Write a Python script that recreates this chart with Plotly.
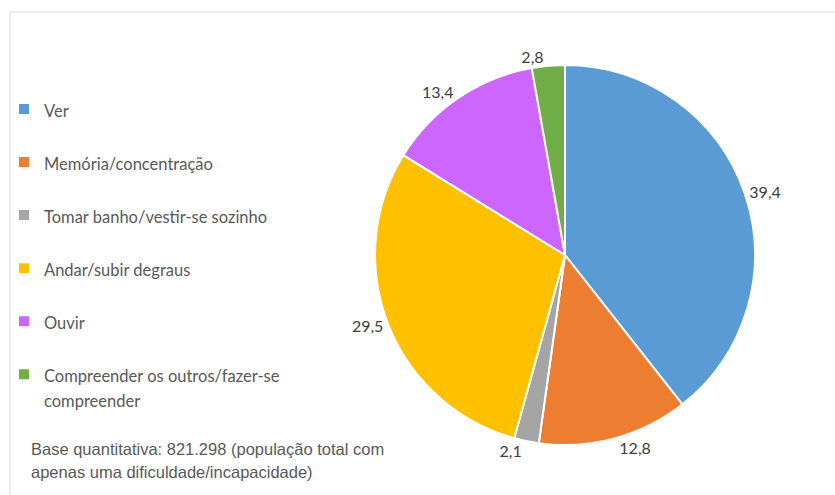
import plotly.graph_objects as go

# Share of people with a single difficulty/incapacity, by type (%)
categories = [
    "Ver",
    "Memória/concentração",
    "Tomar banho/vestir-se sozinho",
    "Andar/subir degraus",
    "Ouvir",
    "Compreender os outros/fazer-se compreender",
]
values = [39.4, 12.8, 2.1, 29.5, 13.4, 2.8]
colors = ["#5B9BD5", "#ED7D31", "#A5A5A5", "#FFC000", "#CC66FF", "#70AD47"]

footnote_lines = [
    "Base quantitativa: 821.298 (população total com",
    "apenas uma dificuldade/incapacidade)",
]

W, H = 835, 495


def legend_label(name, width=30):
    """Wrap long names; single-line names get a blank second line so rows are evenly spaced."""
    words, lines, cur = name.split(" "), [], ""
    for w in words:
        if cur and len(cur) + 1 + len(w) > width:
            lines.append(cur)
            cur = w
        else:
            cur = f"{cur} {w}" if cur else w
    lines.append(cur)
    styled = [f"<span style='font-size:16.5px'>{ln}</span>" for ln in lines]
    if len(styled) == 1:
        styled.append(" ")
    return "<br>".join(styled)


labels = [legend_label(c) for c in categories]

fig = go.Figure(
    go.Pie(
        labels=labels,
        values=values,
        sort=False,
        direction="clockwise",
        rotation=0,
        marker=dict(colors=colors, line=dict(color="white", width=2)),
        texttemplate="%{value:.1f}",
        textposition="outside",
        textfont=dict(family="Lato", size=16, color="#404040"),
        hovertemplate="%{customdata}: %{value:.1f}<extra></extra>",
        customdata=categories,
        domain=dict(x=[365 / W, 765 / W], y=[(H - 445) / H, (H - 65) / H]),
        showlegend=True,
    )
)

for i, line in enumerate(footnote_lines):
    fig.add_annotation(
        text=line,
        xref="paper", yref="paper",
        x=29 / W, y=1 - (449 + 23 * i) / H,
        xanchor="left", yanchor="middle",
        showarrow=False,
        font=dict(family="Liberation Sans", size=16.5, color="#595959"),
    )

# light frame: top and left edges
fig.add_shape(type="line", xref="paper", yref="paper",
              x0=10 / W, x1=1, y0=1 - 12 / H, y1=1 - 12 / H,
              line=dict(color="#D9D9D9", width=1))
fig.add_shape(type="line", xref="paper", yref="paper",
              x0=10 / W, x1=10 / W, y0=0, y1=1 - 12 / H,
              line=dict(color="#D9D9D9", width=1))

fig.update_layout(
    width=W,
    height=H,
    margin=dict(l=0, r=0, t=0, b=0),
    paper_bgcolor="white",
    plot_bgcolor="white",
    separators=",.",
    legend=dict(
        x=4 / W, y=1 - 90 / H,
        xanchor="left", yanchor="top",
        valign="top",
        font=dict(family="Lato", size=19.25, color="#595959"),
        bgcolor="rgba(0,0,0,0)",
        traceorder="normal",
    ),
)

fig.write_html("out.html")
